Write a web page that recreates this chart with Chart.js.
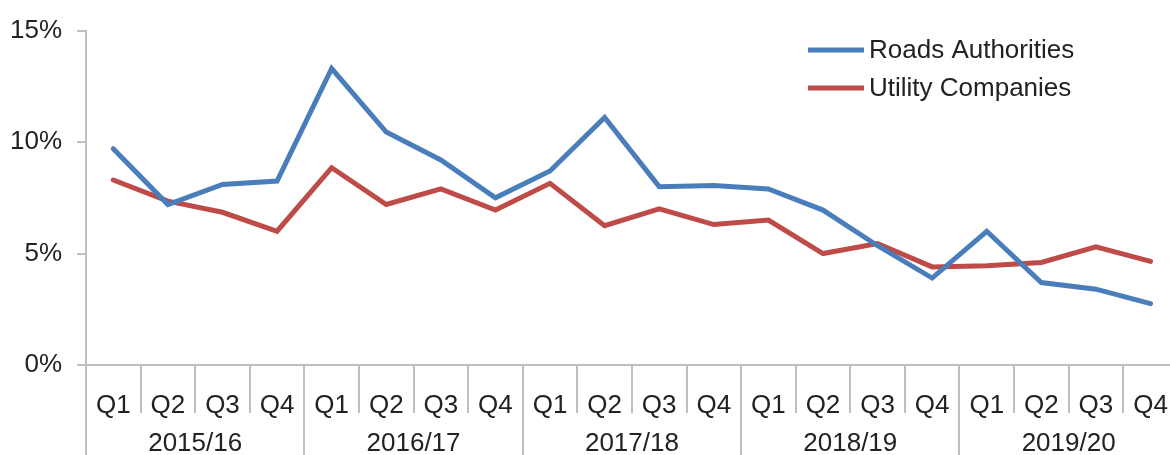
<!DOCTYPE html>
<html lang="en">
<head>
  <meta charset="UTF-8">
  <title>Roads Authorities vs Utility Companies</title>
  <script src="https://cdn.jsdelivr.net/npm/chart.js@4.4.0/dist/chart.umd.min.js"></script>
  <style>
    body {
      margin: 0;
      background: #fff;
      overflow: hidden;
    }
    .chart-box {
      position: relative;
      width: 1185px;
      height: 455px;
    }
  </style>
</head>
<body>
  <div class="chart-box"><canvas id="lineChart"></canvas></div>

  <script>
    const quarters = ['Q1', 'Q2', 'Q3', 'Q4'];
    const years = ['2015/16', '2016/17', '2017/18', '2018/19', '2019/20'];
    const yTicks = [0, 5, 10, 15];

    // percentage per quarter
    const roadsAuthorities = [9.7, 7.2, 8.1, 8.25, 13.3, 10.45, 9.2, 7.5, 8.7, 11.1, 8.0, 8.05, 7.9, 6.95, 5.35, 3.9, 6.0, 3.7, 3.4, 2.75];
    const utilityCompanies = [8.3, 7.35, 6.85, 6.0, 8.85, 7.2, 7.9, 6.95, 8.15, 6.25, 7.0, 6.3, 6.5, 5.0, 5.45, 4.4, 4.45, 4.6, 5.3, 4.65];

    const labels = [];
    years.forEach(() => quarters.forEach(q => labels.push(q)));

    const FONT = "'Liberation Sans', Arial, sans-serif";
    const FONT_SIZE = 26;
    const TEXT = '#222';
    const AXIS = '#bfbfbf';

    // separators between quarters, longer ones between years, plus year names
    const groupAxis = {
      id: 'groupAxis',
      afterDraw(chart) {
        const x = chart.scales.x;
        const ctx = chart.ctx;
        const area = chart.chartArea;
        const step = x.getPixelForValue(1) - x.getPixelForValue(0);

        ctx.save();
        ctx.strokeStyle = AXIS;
        ctx.lineWidth = 2;
        for (let k = 0; k <= labels.length; k++) {
          const px = Math.round(x.getPixelForValue(k) - step / 2);
          const bottom = k % quarters.length === 0 ? chart.height : area.bottom + 48;
          ctx.beginPath();
          ctx.moveTo(px, area.bottom);
          ctx.lineTo(px, bottom);
          ctx.stroke();
        }

        ctx.fillStyle = TEXT;
        ctx.font = FONT_SIZE + 'px ' + FONT;
        ctx.textAlign = 'center';
        ctx.textBaseline = 'middle';
        years.forEach((yr, i) => {
          const first = x.getPixelForValue(i * quarters.length);
          const last = x.getPixelForValue(i * quarters.length + quarters.length - 1);
          ctx.fillText(yr, (first + last) / 2, area.bottom + 79);
        });
        ctx.restore();
      }
    };

    // legend drawn inside the plot, top right
    const innerLegend = {
      id: 'innerLegend',
      afterDraw(chart) {
        const ctx = chart.ctx;
        const left = 808;
        let y = 50;
        ctx.save();
        ctx.font = FONT_SIZE + 'px ' + FONT;
        ctx.textBaseline = 'middle';
        ctx.textAlign = 'left';
        chart.data.datasets.forEach(ds => {
          ctx.strokeStyle = ds.borderColor;
          ctx.lineWidth = 5;
          ctx.beginPath();
          ctx.moveTo(left, y);
          ctx.lineTo(left + 56, y);
          ctx.stroke();
          ctx.fillStyle = TEXT;
          ctx.fillText(ds.label, left + 61, y + 1);
          y += 38;
        });
        ctx.restore();
      }
    };

    new Chart(document.getElementById('lineChart'), {
      type: 'line',
      data: {
        labels,
        datasets: [
          { label: 'Roads Authorities', data: roadsAuthorities, borderColor: '#4a7ebb', borderWidth: 5 },
          { label: 'Utility Companies', data: utilityCompanies, borderColor: '#be4b48', borderWidth: 5 }
        ]
      },
      options: {
        responsive: true,
        maintainAspectRatio: false,
        animation: false,
        events: [],
        layout: { padding: { top: 29, right: 5, left: 0, bottom: 0 } },
        elements: {
          point: { radius: 0 },
          line: { tension: 0, borderCapStyle: 'round', borderJoinStyle: 'miter' }
        },
        plugins: {
          legend: { display: false },
          tooltip: { enabled: false }
        },
        scales: {
          x: {
            offset: true,
            grid: { display: false },
            border: { color: AXIS, width: 2 },
            ticks: {
              color: TEXT,
              font: { family: FONT, size: FONT_SIZE },
              padding: 17,
              maxRotation: 0,
              autoSkip: false
            },
            afterFit: s => { s.height = 90; }
          },
          y: {
            min: 0,
            max: 15,
            afterBuildTicks: s => { s.ticks = yTicks.map(v => ({ value: v })); },
            grid: { drawOnChartArea: false, drawTicks: true, tickLength: 9, color: AXIS, lineWidth: 2 },
            border: { color: AXIS, width: 2 },
            ticks: {
              color: TEXT,
              font: { family: FONT, size: FONT_SIZE },
              padding: 15,
              callback: v => v + '%'
            },
            afterFit: s => { s.width = 86; }
          }
        }
      },
      plugins: [groupAxis, innerLegend]
    });
  </script>
</body>
</html>
